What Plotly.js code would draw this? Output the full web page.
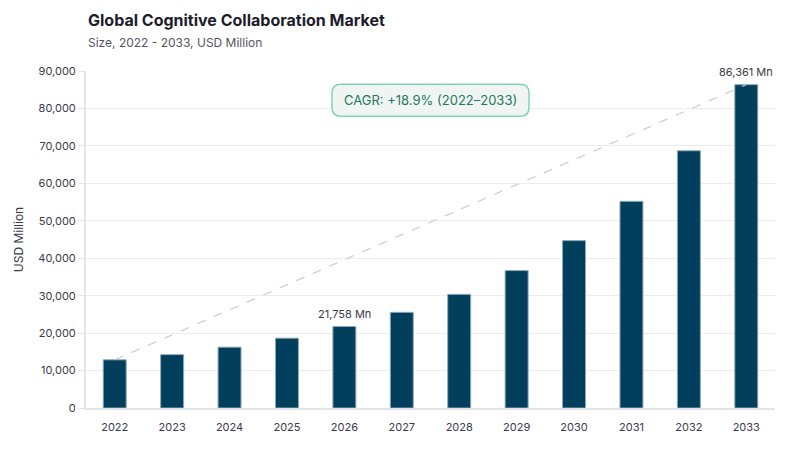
<!DOCTYPE html>
<html>
<head>
<meta charset="utf-8">
<script src="https://cdn.plot.ly/plotly-3.0.1.min.js"></script>
<style>
  html, body { margin: 0; padding: 0; background: #ffffff; }
  #chart { width: 800px; height: 450px; }
</style>
</head>
<body>
<div id="chart"></div>
<script>
// market size by year, USD Million
var years = ["2022", "2023", "2024", "2025", "2026", "2027", "2028", "2029", "2030", "2031", "2032", "2033"];
var marketSize = [12870, 14250, 16250, 18660, 21758, 25550, 30350, 36700, 44700, 55200, 68700, 86361];
var labelYears = ["2026", "2033"];
var labelTexts = ["21,758 Mn", "86,361 Mn"];
var cagrText = "CAGR: +18.9% (2022\u20132033)";
var yTicks = [0, 10000, 20000, 30000, 40000, 50000, 60000, 70000, 80000, 90000];

var font = "Inter, 'Noto Sans', sans-serif";

var bars = {
  x: years, y: marketSize, type: 'bar',
  marker: {color: '#013f5c', line: {color: '#8fa9b8', width: 1}},
  hoverinfo: 'x+y', showlegend: false
};

//Dashed trend line from first to last bar top
var trend = {
  x: [years[0], years[years.length - 1]],
  y: [marketSize[0], marketSize[marketSize.length - 1]],
  mode: 'lines', type: 'scatter',
  line: {color: '#c8c8c8', width: 1.1, dash: 'dash'},
  hoverinfo: 'skip', showlegend: false
};

var annotations = [];
for (var i = 0; i < labelYears.length; i++) {
  var idx = years.indexOf(labelYears[i]);
  //category index, so the annotation doesn't stretch the axis
  annotations.push({
    x: idx, y: marketSize[idx], text: labelTexts[i],
    showarrow: false, yanchor: 'bottom', yshift: 4,
    font: {family: font, size: 11, color: '#3a3a48'}
  });
}
annotations.push({
  xref: 'paper', yref: 'paper', x: 0.5, y: 0.9135, xanchor: 'center', yanchor: 'middle',
  text: cagrText, showarrow: false,
  font: {family: font, size: 13, color: '#1d7a5a'}
});
annotations.push({
  xref: 'paper', yref: 'paper', x: 0, y: 1.151, xanchor: 'left', yanchor: 'middle',
  text: 'Global Cognitive Collaboration Market', showarrow: false,
  font: {family: font, size: 16, color: '#1c1c2b', weight: 700}
});
annotations.push({
  xref: 'paper', yref: 'paper', x: 0, y: 1.086, xanchor: 'left', yanchor: 'middle',
  text: 'Size, 2022 - 2033, USD Million', showarrow: false,
  font: {family: font, size: 12, color: '#55555f'}
});

//Rounded box behind the CAGR text (paper coords, radius about 9px)
var bx0 = 0.357, bx1 = 0.643, by0 = 0.866, by1 = 0.961;
var rx = 9 / 689, ry = 9 / 337;
var boxPath = 'M ' + (bx0 + rx) + ',' + by1 +
  ' L ' + (bx1 - rx) + ',' + by1 + ' Q ' + bx1 + ',' + by1 + ' ' + bx1 + ',' + (by1 - ry) +
  ' L ' + bx1 + ',' + (by0 + ry) + ' Q ' + bx1 + ',' + by0 + ' ' + (bx1 - rx) + ',' + by0 +
  ' L ' + (bx0 + rx) + ',' + by0 + ' Q ' + bx0 + ',' + by0 + ' ' + bx0 + ',' + (by0 + ry) +
  ' L ' + bx0 + ',' + (by1 - ry) + ' Q ' + bx0 + ',' + by1 + ' ' + (bx0 + rx) + ',' + by1 + ' Z';

var layout = {
  width: 800, height: 450,
  margin: {l: 86, r: 25, t: 71, b: 42},
  paper_bgcolor: '#ffffff', plot_bgcolor: '#ffffff',
  bargap: 0.6,
  font: {family: font, size: 11, color: '#3a3a48'},
  xaxis: {
    type: 'category', range: [-0.5, years.length - 0.5],
    showgrid: false, showline: true, linecolor: '#e3e3e8', linewidth: 2,
    ticks: '', ticklabelstandoff: 8,
    tickfont: {family: font, size: 11, color: '#3a3a48'}, zeroline: false
  },
  yaxis: {
    range: [0, 90000], tickvals: yTicks, tickformat: ',d',
    showgrid: true, gridcolor: '#ececee', gridwidth: 1,
    showline: true, linecolor: '#e3e3e8', linewidth: 2,
    ticks: 'outside', ticklen: 6, tickcolor: '#e3e3e8',
    zeroline: false,
    tickfont: {family: font, size: 11, color: '#3a3a48'},
    title: {text: 'USD Million', font: {family: font, size: 12, color: '#3a3a48'}, standoff: 12}
  },
  shapes: [{
    type: 'path', xref: 'paper', yref: 'paper', path: boxPath,
    fillcolor: '#f0f5f4', line: {color: '#7fd4b6', width: 1.5}, layer: 'above'
  }],
  annotations: annotations
};

Plotly.newPlot('chart', [bars, trend], layout, {displayModeBar: false, staticPlot: true});
</script>
</body>
</html>
